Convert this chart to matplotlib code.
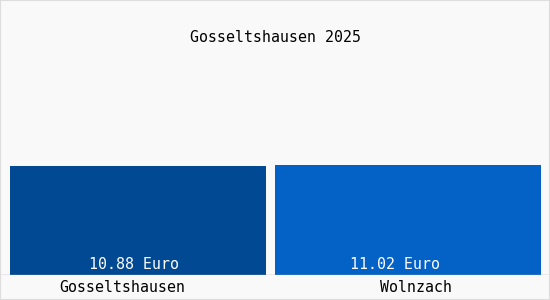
import matplotlib.pyplot as plt
import numpy as np

# values
places = ['Gosseltshausen', 'Wolnzach']
prices = [10.88, 11.02]
labels = ['10.88 Euro', '11.02 Euro']
colors = ['#024994', '#0461c5']

plt.rcParams['font.family'] = ['DejaVu Sans Mono']
fs = 10.7

fig = plt.figure(figsize=(5.5, 3), dpi=100, facecolor='#f9f9f9')
# axes covers x across the whole figure, bottom at the baseline
ax = fig.add_axes([0, 25 / 300, 1, 275 / 300])
ax.set_facecolor('#f9f9f9')

x = np.arange(len(places))
ax.bar(x, prices, width=[0.945, 0.985], color=colors, zorder=2)

# value labels sit at the bottom of each bar
for xi, dx, lab in zip(x, [-0.015, -0.048], labels):
    ax.text(xi + dx, 0.25, lab, ha='center', va='bottom', color='white', fontsize=fs, zorder=3)

ax.set_xlim(-0.511, 1.526)
ax.set_ylim(0, 27.45)
ax.axhline(0, color='#aaaaaa', lw=1, zorder=4)
for s in ax.spines.values():
    s.set_visible(False)
ax.set_xticks([])
ax.set_yticks([])

# category labels below the baseline
fig.text(122 / 550, 13 / 300, places[0], ha='center', va='center', fontsize=fs, color='black')
fig.text(416 / 550, 13 / 300, places[1], ha='center', va='center', fontsize=fs, color='black')

fig.text(0.5, 1 - 38 / 300, 'Gosseltshausen 2025', ha='center', va='center', fontsize=fs, color='black')

# thin frame around the picture
fig.patches.append(plt.Rectangle((0, 0), 1, 1, transform=fig.transFigure, fill=False,
                                 edgecolor='#dddddd', lw=1.5))

fig.savefig('out.png', dpi=100, facecolor=fig.get_facecolor())
